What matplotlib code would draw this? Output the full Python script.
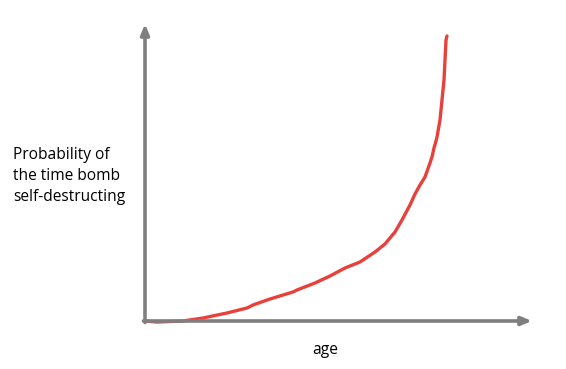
import matplotlib
matplotlib.use("Agg")
import matplotlib.pyplot as plt

# hand drawn curve (age, probability) from the origin
age = [0, 12, 38, 58, 82, 102, 108, 125, 148, 152, 170, 185, 200, 215,
       230, 240, 250, 257, 265, 270, 275, 280, 285, 287, 289, 291, 292, 295,
       297, 299, 300, 301, 302]
prob = [0, -1, 0, 3, 8, 13, 16, 22, 29, 31, 38, 45, 53, 59, 69, 77, 89,
        101, 116, 127, 136, 144, 158, 164, 173, 180, 184, 201, 221, 241,
        261, 281, 285]

ylabel_lines = ["Probability of", "the time bomb", "self-destructing"]
xlabel = "age"

fig = plt.figure(figsize=(5.66, 3.69), dpi=100)
ax = fig.add_axes([0, 0, 1, 1])
ax.set_xlim(-145, 421)
ax.set_ylim(-48, 321)
ax.axis("off")

axis_col = "#7f7f7f"
arrow = dict(arrowstyle="-|>,head_length=0.6,head_width=0.25", color=axis_col,
             lw=2.6, shrinkA=0, shrinkB=0)
ax.annotate("", xy=(0, 297), xytext=(0, -1.5), arrowprops=arrow)
ax.annotate("", xy=(387, 0), xytext=(-1.5, 0), arrowprops=arrow)

ax.plot(age, prob, color="#e8403a", lw=2.4, solid_capstyle="round",
        solid_joinstyle="round")

ax.text(-132, 145, "\n".join(ylabel_lines), fontsize=11.2, family="Open Sans",
        va="center", ha="left", linespacing=1.42)
ax.text(180, -29, xlabel, fontsize=11.2, family="Open Sans",
        va="center", ha="center")

fig.savefig("out.png", dpi=100)
